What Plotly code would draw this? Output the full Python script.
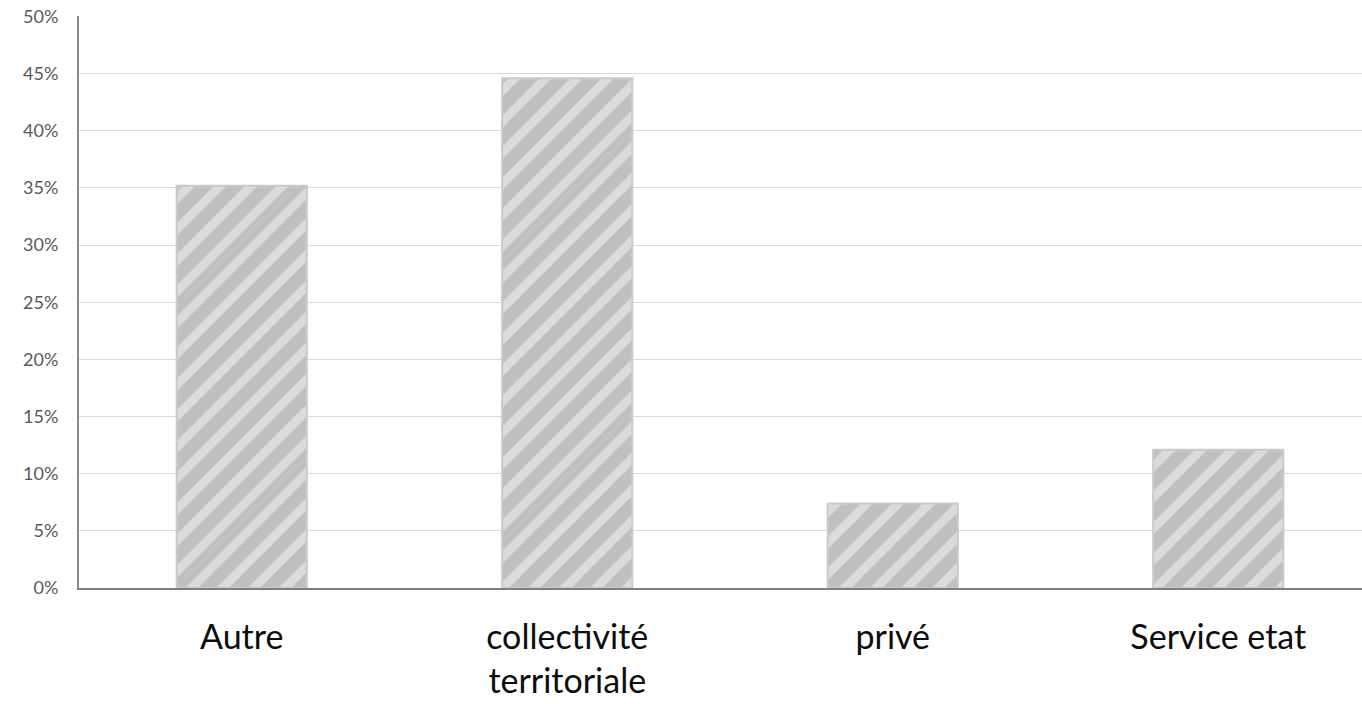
import plotly.graph_objects as go

categories = ["Autre", "collectivité<br>territoriale", "privé", "Service etat"]
values = [0.352, 0.446, 0.074, 0.121]
y_ticks = [0, 0.05, 0.10, 0.15, 0.20, 0.25, 0.30, 0.35, 0.40, 0.45, 0.50]
y_tick_labels = ["0%", "5%", "10%", "15%", "20%", "25%", "30%", "35%", "40%", "45%", "50%"]

fig = go.Figure(go.Bar(
    x=categories, y=values,
    marker=dict(
        color="#c0c0c0",
        line=dict(color="#cacaca", width=2),
        pattern=dict(shape="/", fgcolor="#f6f6f6", bgcolor="#c0c0c0", size=22, solidity=0.4),
    ),
))

fig.update_layout(
    width=1362, height=704,
    margin=dict(l=79, r=0, t=16, b=116),
    paper_bgcolor="white", plot_bgcolor="white",
    bargap=0.6, showlegend=False,
    font=dict(family="Lato, Open Sans, sans-serif"),
)
fig.update_xaxes(
    range=[-0.5, 3.4416], showgrid=False, automargin=False,
    showline=True, linecolor="#7f7f7f", linewidth=2,
    tickfont=dict(size=34, color="#0d0d0d"),
    ticklabelstandoff=18, ticks="",
)
fig.update_yaxes(
    range=[0, 0.5004], tickvals=y_ticks, ticktext=y_tick_labels, automargin=False,
    showgrid=True, gridcolor="#d9d9d9", gridwidth=1,
    showline=True, linecolor="#8c8c8c", linewidth=2,
    tickfont=dict(size=18, color="#595959"),
    ticklabelstandoff=15, ticks="", zeroline=False,
    ticklabeloverflow="allow",
)

# remove the default 8px page margin so the figure fills the window exactly
fig.write_html(
    "out.html",
    config={"displayModeBar": False},
    post_script="document.body.style.margin='0';document.body.style.overflow='hidden';",
)
